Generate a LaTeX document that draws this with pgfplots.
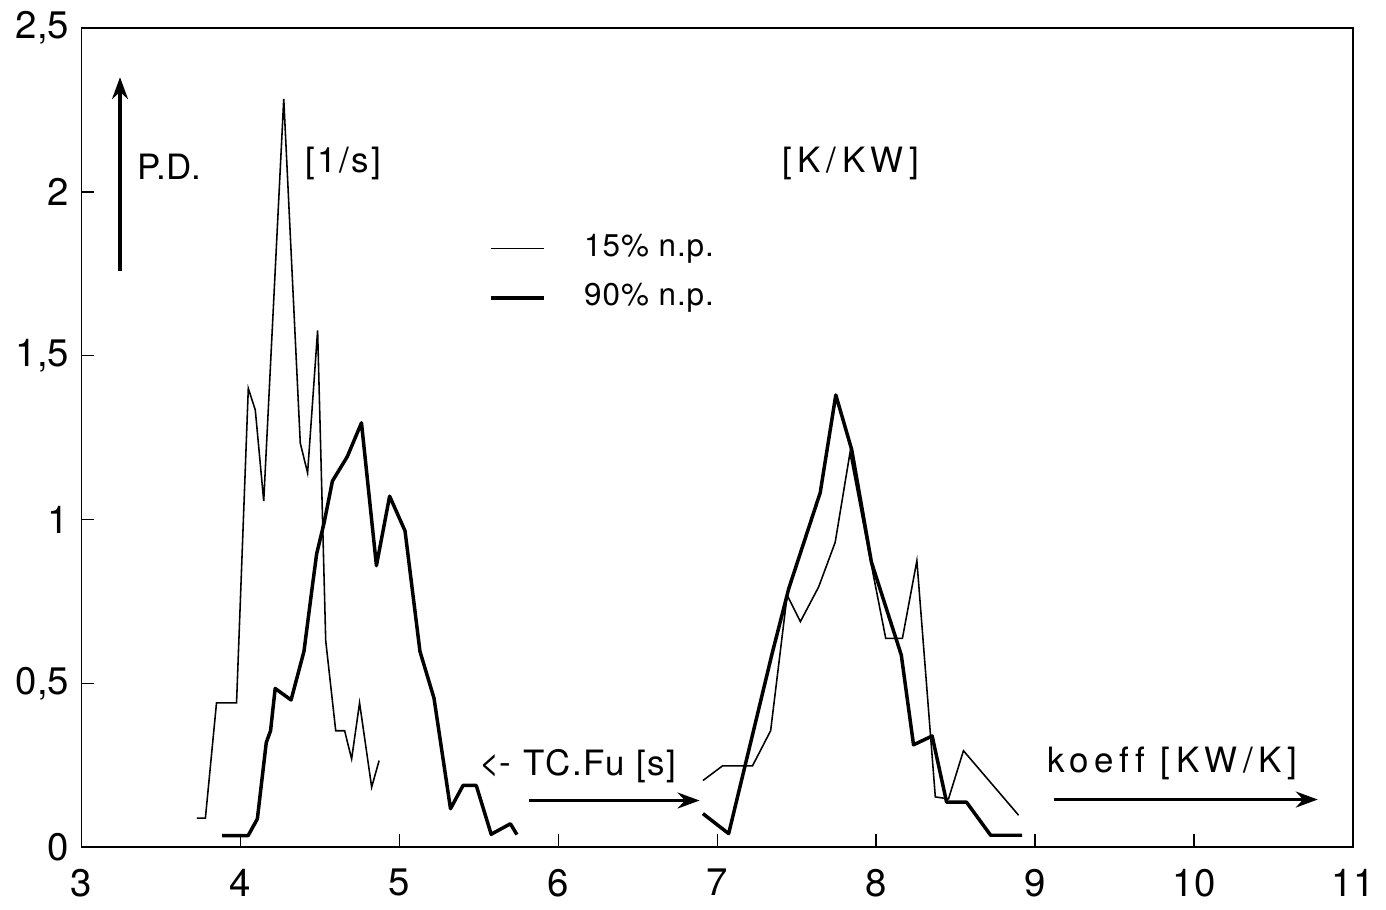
\documentclass[border=0pt]{standalone}
\usepackage{fontspec}
\setmainfont{TeX Gyre Heros}
\newfontfamily\spacedA[LetterSpace=16,Ligatures=NoCommon]{TeX Gyre Heros}
\newfontfamily\spacedB[LetterSpace=16]{TeX Gyre Heros}
\newfontfamily\spacedC[LetterSpace=7]{TeX Gyre Heros}
\newfontfamily\spacedE[LetterSpace=5]{TeX Gyre Heros}
\newfontfamily\spacedD[LetterSpace=3]{TeX Gyre Heros}
\usepackage{pgfplots}
\pgfplotsset{compat=1.18}
\usetikzlibrary{arrows.meta}
\begin{document}
\begin{tikzpicture}
\begin{axis}[
  scale only axis, width=128.1mm, height=82.5mm,
  xmin=3, xmax=11, ymin=0, ymax=2.5,
  xtick={3,4,...,11}, ytick={0,0.5,1,1.5,2,2.5},
  tick align=inside, tick pos=left,
  major tick length=1.3mm,
  axis line style={line width=0.5pt},
  tick style={line width=0.4pt, black},
  /pgf/number format/use comma,
  /pgf/number format/assume math mode=true,
  ticklabel style={font=\fontsize{11}{13}\selectfont},
  xticklabel style={yshift=-1mm},
  clip=false,
]
% 15% n.p. (thin)
\addplot[black, line width=0.45pt] coordinates {
(3.726,0.088) (3.78,0.088) (3.85,0.44) (3.976,0.44) (4.05,1.40) (4.094,1.334)
(4.147,1.056) (4.273,2.284) (4.377,1.233) (4.423,1.142) (4.486,1.577) (4.537,0.63)
(4.60,0.355) (4.656,0.355) (4.70,0.269) (4.75,0.44) (4.826,0.183) (4.873,0.264)};
% 90% n.p. (thick)
\addplot[black, line width=1pt, line join=round] coordinates {
(3.886,0.035) (4.049,0.035) (4.107,0.086) (4.163,0.319) (4.19,0.355) (4.219,0.484)
(4.319,0.449) (4.40,0.597) (4.454,0.80) (4.48,0.895) (4.527,0.99) (4.579,1.117)
(4.673,1.192) (4.762,1.295) (4.856,0.859) (4.939,1.071) (5.036,0.965) (5.13,0.597)
(5.218,0.455) (5.322,0.117) (5.401,0.188) (5.484,0.188) (5.578,0.039) (5.699,0.071)
(5.74,0.038)};
% 15% n.p. right group
\addplot[black, line width=0.45pt] coordinates {
(6.91,0.203) (7.034,0.248) (7.222,0.248) (7.336,0.355) (7.44,0.769) (7.523,0.688)
(7.638,0.794) (7.742,0.93) (7.835,1.203) (7.95,0.91) (8.06,0.637) (8.165,0.637)
(8.256,0.874) (8.372,0.153) (8.455,0.147) (8.549,0.294) (8.896,0.097)};
% 90% n.p. right group
\addplot[black, line width=1pt, line join=round] coordinates {
(6.91,0.102) (7.072,0.041) (7.346,0.592) (7.45,0.789) (7.648,1.082) (7.746,1.38)
(7.846,1.213) (7.97,0.87) (8.158,0.586) (8.235,0.312) (8.352,0.339) (8.443,0.137)
(8.568,0.137) (8.72,0.036) (8.918,0.036)};

% annotations
\draw[line width=1pt, -{Stealth[length=2.2mm,width=1.6mm]}] (axis cs:3.243,1.758) -- (axis cs:3.243,2.35);
\node[anchor=west, inner sep=0pt, font=\fontsize{10}{12}\selectfont] at (axis cs:3.35,2.076) {P.D.};
\node[anchor=west, inner sep=0pt, font=\fontsize{10}{12}\spacedC] at (axis cs:4.404,2.088) {[1/s]};
\node[anchor=west, inner sep=0pt, font=\fontsize{10}{12}\spacedB] at (axis cs:7.407,2.088) {[K/KW]};
\draw[line width=0.45pt] (axis cs:5.578,1.827) -- (axis cs:5.909,1.827);
\draw[line width=1pt] (axis cs:5.578,1.676) -- (axis cs:5.909,1.676);
\node[anchor=west, inner sep=0pt, font=\fontsize{9}{11}\spacedD] at (axis cs:6.159,1.827) {15\%\ n.p.};
\node[anchor=west, inner sep=0pt, font=\fontsize{9}{11}\spacedD] at (axis cs:6.159,1.676) {90\%\ n.p.};
\node[anchor=west, inner sep=0pt, font=\fontsize{10}{12}\selectfont] at (axis cs:5.497,0.248) {<-};
\node[anchor=west, inner sep=0pt, font=\fontsize{10}{12}\spacedE] at (axis cs:5.778,0.248) {TC.Fu [s]};
\draw[line width=1pt, -{Stealth[length=2.2mm,width=1.6mm]}] (axis cs:5.815,0.142) -- (axis cs:6.889,0.142);
\node[anchor=west, inner sep=0pt, font=\fontsize{10}{12}\spacedA] at (axis cs:9.074,0.255) {koeff [KW/K]};
\draw[line width=1pt, -{Stealth[length=2.2mm,width=1.6mm]}] (axis cs:9.117,0.145) -- (axis cs:10.778,0.145);
\end{axis}
\path[use as bounding box] (-8.2mm,-6.3mm) rectangle (130.4mm,84.7mm);
\end{tikzpicture}
\end{document}
